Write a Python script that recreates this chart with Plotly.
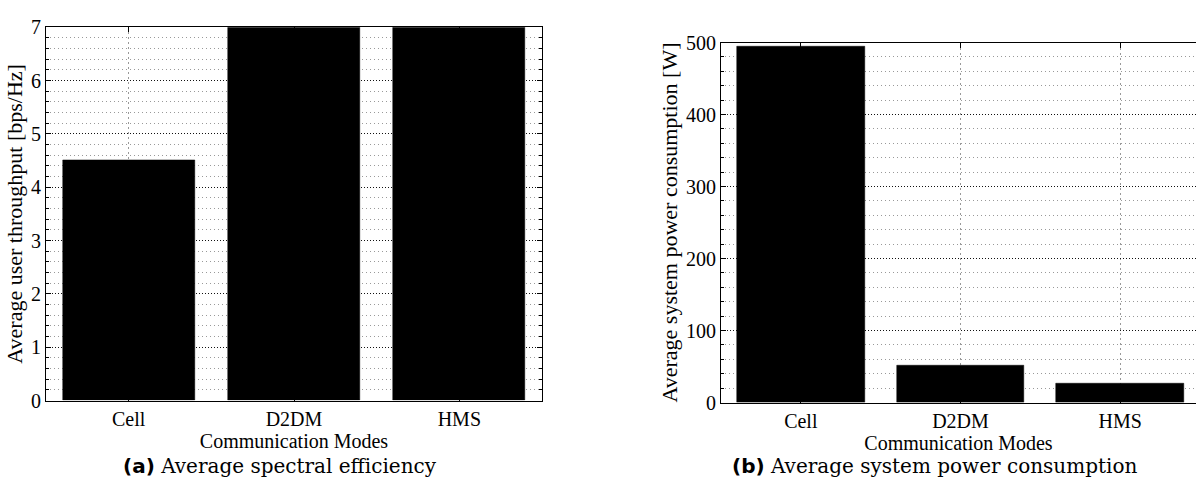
import plotly.graph_objects as go

# ---- data ----
modes = ["Cell", "D2DM", "HMS"]
mode_pos = [1, 2, 3]
throughput = [4.5, 7.4, 7.6]        # bps/Hz (D2DM, HMS clipped at 7)
power = [495, 52, 26]               # W

W, H = 1196, 488
SERIF = "Liberation Serif, Times New Roman, serif"
CAP = "DejaVu Serif, serif"

def px_x(p):
    return p / W

def px_y(p):
    return 1 - p / H

fig = go.Figure()
fig.add_trace(go.Bar(x=mode_pos, y=throughput, width=0.8,
                     marker=dict(color="black", line=dict(color="black", width=0.5)),
                     xaxis="x", yaxis="y", showlegend=False))
fig.add_trace(go.Bar(x=mode_pos, y=power, width=0.8,
                     marker=dict(color="black", line=dict(color="black", width=0.5)),
                     xaxis="x2", yaxis="y2", showlegend=False))

tickfont = dict(family=SERIF, size=20, color="black")
xtitlefont = dict(family=SERIF, size=20, color="black")
ytitlefont = dict(family=SERIF, size=22, color="black")

def xaxis_common(domain, rng, anchor):
    return dict(domain=domain, range=rng, anchor=anchor,
                tickvals=mode_pos, ticktext=modes, tickfont=tickfont,
                ticks="inside", ticklen=5, tickcolor="black",
                showline=True, linecolor="black", linewidth=1, mirror="ticks",
                showgrid=True, gridcolor="#999999", griddash="2px,3px", gridwidth=1,
                zeroline=False,
                title=dict(text="Communication Modes", font=xtitlefont, standoff=0))

def yaxis_common(domain, rng, dtick, mdtick, anchor, title, mirror):
    return dict(domain=domain, range=rng, anchor=anchor, dtick=dtick,
                tickfont=tickfont, ticks="inside", ticklen=5, tickcolor="black",
                showline=True, linecolor="black", linewidth=1, mirror=mirror,
                showgrid=True, gridcolor="#111111", griddash="1px,2px", gridwidth=1,
                zeroline=False,
                minor=dict(dtick=mdtick, ticks="inside", ticklen=3, tickcolor="black",
                           showgrid=True, gridcolor="#999999", griddash="1px,3px", gridwidth=1),
                title=dict(text=title, font=ytitlefont, standoff=2))

fig.update_layout(
    width=W, height=H,
    margin=dict(l=0, r=0, t=0, b=0),
    paper_bgcolor="white", plot_bgcolor="white",
    bargap=0,
    xaxis=xaxis_common([px_x(46), px_x(542)], [0.5, 3.5], "y"),
    yaxis=yaxis_common([px_y(408), px_y(17)], [0, 7], 1, 0.2, "x",
                       "Average user throughput [bps/Hz]", "ticks"),
    xaxis2=xaxis_common([px_x(721), 1.0], [0.5, 3.5 - 4 / 160], "y2"),
    yaxis2=yaxis_common([px_y(410), px_y(33)], [0, 500], 100, 20, "x2",
                        "Average system power consumption [W]", False),
)

fig.add_annotation(x=px_x(280), y=px_y(477), xref="paper", yref="paper",
                   xanchor="center", yanchor="middle",
                   text='<b style="font-family:DejaVu Sans">(a)</b> Average spectral efficiency',
                   showarrow=False, font=dict(family=CAP, size=20, color="black"))
fig.add_annotation(x=px_x(934), y=px_y(477), xref="paper", yref="paper",
                   xanchor="center", yanchor="middle",
                   text='<b style="font-family:DejaVu Sans">(b)</b> Average system power consumption',
                   showarrow=False, font=dict(family=CAP, size=20, color="black"))

fig.write_html("out.html")
